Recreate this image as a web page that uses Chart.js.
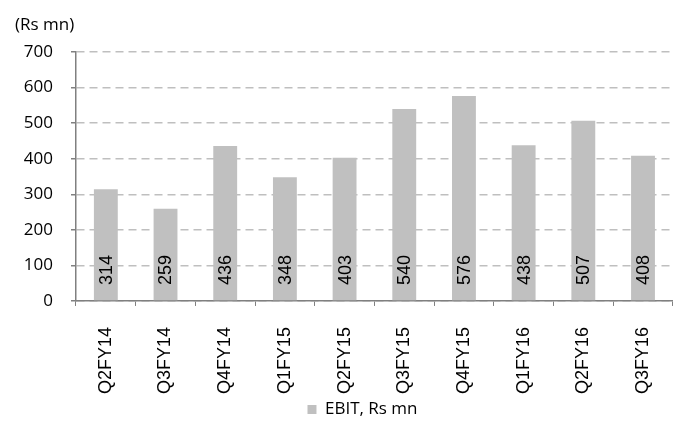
<!DOCTYPE html>
<html>
<head>
<meta charset="utf-8">
<script src="https://cdn.jsdelivr.net/npm/chart.js@4.4.1/dist/chart.umd.min.js"></script>
<style>
  html, body { margin: 0; padding: 0; background: #fff; }
  #wrap { position: relative; width: 686px; height: 424px; }
  #unit {
    position: absolute; left: 15px; top: 14px;
    font: 17px/19px "Open Sans", sans-serif; color: #000;
  }
</style>
</head>
<body>
<div id="wrap">
  <div id="unit">(Rs mn)</div>
  <canvas id="ebitChart" width="686" height="424"></canvas>
</div>
<script>
const quarters = ['Q2FY14', 'Q3FY14', 'Q4FY14', 'Q1FY15', 'Q2FY15', 'Q3FY15', 'Q4FY15', 'Q1FY16', 'Q2FY16', 'Q3FY16'];
const ebit = [314, 259, 436, 348, 403, 540, 576, 438, 507, 408];
const yTicks = [0, 100, 200, 300, 400, 500, 600, 700];

// values written upright inside each bar, near the base
const barValues = {
  id: 'barValues',
  afterDatasetsDraw(chart) {
    const c = chart.ctx;
    const meta = chart.getDatasetMeta(0);
    const base = chart.scales.y.getPixelForValue(0);
    c.save();
    c.fillStyle = '#000';
    c.font = '18px "Liberation Sans", Arial, sans-serif';
    c.textAlign = 'left';
    c.textBaseline = 'middle';
    meta.data.forEach((bar, i) => {
      c.save();
      c.translate(bar.x, base - 16);
      c.rotate(-Math.PI / 2);
      c.fillText(String(ebit[i]), 0, 1);
      c.restore();
    });
    c.restore();
  }
};

// push the legend a little to the right, under the middle of the bars
const legendNudge = {
  id: 'legendNudge',
  afterLayout(chart) {
    chart.legend.left += 20;
    chart.legend.right += 20;
  }
};

new Chart(document.getElementById('ebitChart'), {
  type: 'bar',
  data: {
    labels: quarters,
    datasets: [{
      label: 'EBIT, Rs mn',
      data: ebit,
      backgroundColor: '#C0C0C0',
      borderWidth: 0,
      barPercentage: 0.4,
      categoryPercentage: 1.0,
    }]
  },
  options: {
    responsive: false,
    animation: false,
    layout: { padding: { left: 7, right: 8, top: 52, bottom: -4 } },
    plugins: {
      legend: {
        position: 'bottom',
        labels: {
          color: '#000',
          boxWidth: 9,
          boxHeight: 9,
          padding: 0,
          font: { family: '"Open Sans", sans-serif', size: 17 }
        }
      },
      tooltip: { enabled: false }
    },
    scales: {
      x: {
        grid: { drawOnChartArea: false, color: '#808080', tickLength: 5, offset: true },
        border: { color: '#808080', width: 1.5 },
        ticks: {
          color: '#000',
          minRotation: 90,
          maxRotation: 90,
          padding: 21,
          font: { family: '"Liberation Sans", Arial, sans-serif', size: 18 }
        },
        // tighten the gap between the rotated labels and the legend
        afterFit(scale) { scale.height -= 14; }
      },
      y: {
        min: yTicks[0],
        max: yTicks[yTicks.length - 1],
        grid: {
          color: '#BFBFBF',
          lineWidth: 1.5,
          tickLength: 5,
          tickColor: '#808080'
        },
        border: { color: '#808080', width: 1.5, dash: [8, 5] },
        ticks: {
          color: '#000',
          stepSize: yTicks[1] - yTicks[0],
          padding: 18,
          font: { family: '"Open Sans", sans-serif', size: 17 }
        },
        afterFit(scale) { scale.width = 69; }
      }
    }
  },
  plugins: [barValues, legendNudge]
});
</script>
</body>
</html>
